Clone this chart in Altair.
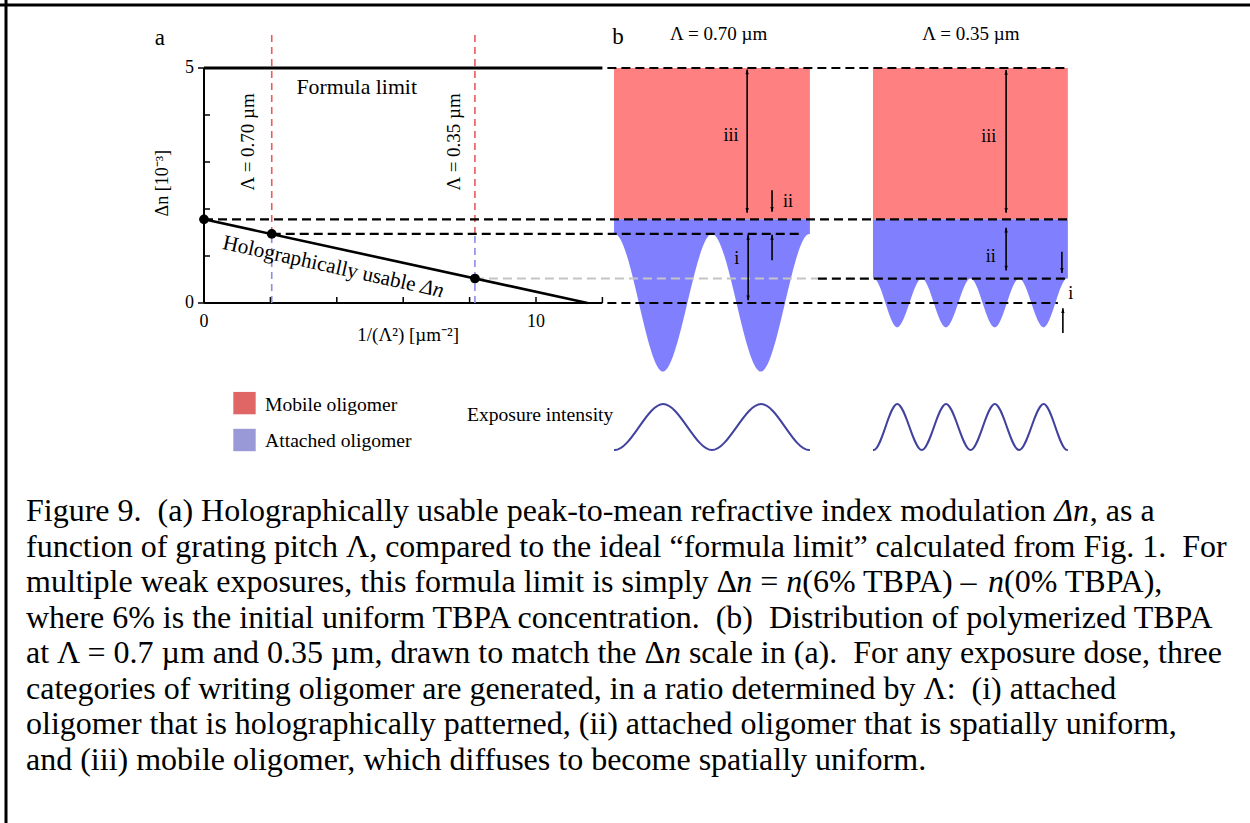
import math
import altair as alt
import pandas as pd

# ---------------- calibration of the single shared coordinate system ----------------
PX_X0, PX_PER_X = 204.0, 33.2      # pixel of x=0, pixels per 1 µm^-2
PX_Y0, PX_PER_Y = 303.0, 47.0      # pixel of Δn=0, pixels per 1e-3
W, H = 1250, 823
XS = alt.Scale(domain=[-PX_X0 / PX_PER_X, (W - PX_X0) / PX_PER_X], nice=False, zero=False)
YS = alt.Scale(domain=[-(H - PX_Y0) / PX_PER_Y, PX_Y0 / PX_PER_Y], nice=False, zero=False)
FONT = "Liberation Serif"
NB = "\u00a0"

# ---------------- panel (a) data ----------------
inv_pitch_sq = [0.0, 2.04, 8.16]        # 1/Λ² [µm⁻²]
usable_dn = [1.78, 1.47, 0.52]          # holographically usable Δn [1e-3]
usable_line_x = [0.0, 11.55]
usable_line_y = [1.78, 0.0]
formula_limit = 5.0
x_axis_max = 12.0
x_tick_values = [2, 4, 6, 8, 10, 12]
x_label_values = [0, 10]
y_tick_in_values = [1, 2, 3, 4]
y_tick_out_values = [0, 5]
pitch_line_top = 5.70

# ---------------- panel (b) data ----------------
top_level = 5.0
mobile_floor = 1.78
# Λ = 0.70 µm block: lower edge of attached oligomer (peaks / troughs)
blockA_x = [12.35, 12.37, 13.83, 15.30, 16.78, 18.23, 18.25]
blockA_y = [1.47, 1.47, -1.46, 1.47, -1.46, 1.47, 1.47]
# Λ = 0.35 µm block
blockB_x = [20.15, 20.17, 20.88, 21.62, 22.35, 23.09, 23.82, 24.55, 25.29, 26.00, 26.02]
blockB_y = [0.52, 0.52, -0.52, 0.52, -0.52, 0.52, -0.52, 0.52, -0.52, 0.52, 0.52]
# exposure intensity waves (drawn in the same frame, below the blocks)
waveA_x = [12.35, 12.37, 13.83, 15.30, 16.78, 18.23, 18.25]
waveA_y = [-3.13, -3.13, -2.15, -3.13, -2.15, -3.13, -3.13]
waveB_x = [20.15, 20.17, 20.88, 21.62, 22.35, 23.09, 23.82, 24.55, 25.29, 26.00, 26.02]
waveB_y = [-3.13, -3.13, -2.15, -3.13, -2.15, -3.13, -2.15, -3.13, -2.15, -3.13, -3.13]

# caption: each line is a list of (text, italic) runs
caption_lines = [
    [("Figure 9.  (a) Holographically usable peak-to-mean refractive index modulation ", False),
     ("\u0394n", True), (", as a", False)],
    [("function of grating pitch \u039b, compared to the ideal \u201cformula limit\u201d calculated from Fig. 1.  For", False)],
    [("multiple weak exposures, this formula limit is simply \u0394", False), ("n", True), (" = ", False),
     ("n", True), ("(6% TBPA) \u2013 ", False), ("n", True), ("(0% TBPA),", False)],
    [("where 6% is the initial uniform TBPA concentration.  (b)  Distribution of polymerized TBPA", False)],
    [("at \u039b = 0.7 \u00b5m and 0.35 \u00b5m, drawn to match the \u0394", False), ("n", True),
     (" scale in (a).  For any exposure dose, three", False)],
    [("categories of writing oligomer are generated, in a ratio determined by \u039b:  (i) attached", False)],
    [("oligomer that is holographically patterned, (ii) attached oligomer that is spatially uniform,", False)],
    [("and (iii) mobile oligomer, which diffuses to become spatially uniform.", False)],
]

# advance widths (per 1000 em) of the serif font, used only to place italic runs after upright ones
ADV = {' ': 250, NB: 250, '(': 333, ')': 333, ',': 250, '-': 333, '.': 250, '/': 278, ':': 278,
       '=': 564, '%': 833, '\u0394': 612, '\u039b': 722, '\u00b5': 576, '\u2013': 500,
       '\u201c': 444, '\u201d': 444}
ADV.update({d: 500 for d in "0123456789"})
ADV.update(dict(zip("ABCDEFGHIJKLMNOPQRSTUVWXYZ",
                    [722, 667, 667, 722, 611, 556, 722, 722, 333, 389, 722, 611, 889, 722, 722, 556,
                     722, 667, 556, 611, 722, 722, 944, 722, 722, 611])))
ADV.update(dict(zip("abcdefghijklmnopqrstuvwxyz",
                    [444, 500, 444, 500, 444, 333, 500, 500, 278, 278, 500, 278, 778, 500, 500, 500,
                     500, 333, 389, 278, 500, 500, 722, 500, 500, 444])))


def run_width(s, size):
    return sum(ADV.get(c, 500) for c in s) * size / 1000.0


def px_x(p):
    return (p - PX_X0) / PX_PER_X


def px_y(p):
    return (PX_Y0 - p) / PX_PER_Y


def X(f="x"):
    return alt.X(f + ":Q", scale=XS, axis=None)


def Y(f="y"):
    return alt.Y(f + ":Q", scale=YS, axis=None)


def segs(rows, **mk):
    df = pd.DataFrame(rows, columns=["x", "y", "x2", "y2"])
    return alt.Chart(df).mark_rule(**mk).encode(x=X(), y=Y(), x2="x2:Q", y2="y2:Q")


def texts(rows, **mk):
    df = pd.DataFrame(rows, columns=["x", "y", "t"])
    base = dict(font=FONT, color="black")
    base.update(mk)
    return alt.Chart(df).mark_text(**base).encode(x=X(), y=Y(), text="t:N")


layers = []

# frame of the figure
xmin, xmax = XS.domain
ymin, ymax = YS.domain
layers.append(segs([[xmin, px_y(5), xmax, px_y(5)], [px_x(6), ymax, px_x(6), ymin]],
                   color="black", strokeWidth=3))

# ---- panel (b) blocks ----
red_df = pd.DataFrame({"x": [blockA_x[0], blockB_x[0]], "x2": [blockA_x[-1], blockB_x[-1]],
                       "y": [mobile_floor] * 2, "y2": [top_level] * 2})
layers.append(alt.Chart(red_df).mark_rect(color="#FF8080").encode(x=X(), x2="x2:Q", y=Y(), y2="y2:Q"))
for bx, by in [(blockA_x, blockA_y), (blockB_x, blockB_y)]:
    df = pd.DataFrame({"x": bx, "y": by, "y2": [mobile_floor] * len(bx)})
    layers.append(alt.Chart(df).mark_area(color="#8080FF", interpolate="monotone", opacity=1)
                  .encode(x=X(), y=Y(), y2="y2:Q"))

# exposure waves
for wx, wy in [(waveA_x, waveA_y), (waveB_x, waveB_y)]:
    df = pd.DataFrame({"x": wx, "y": wy})
    layers.append(alt.Chart(df).mark_line(color="#41419E", strokeWidth=2, interpolate="monotone")
                  .encode(x=X(), y=Y()))

# ---- panel (a) axes ----
layers.append(segs([[0, 0, x_axis_max, 0], [0, 0, 0, formula_limit]], color="black", strokeWidth=2))
tick_rows = [[v, 0, v, 6 / PX_PER_Y] for v in x_tick_values]
tick_rows += [[0, v, 6 / PX_PER_X, v] for v in y_tick_in_values]
tick_rows += [[-6 / PX_PER_X, v, 0, v] for v in y_tick_out_values]
layers.append(segs(tick_rows, color="black", strokeWidth=1.5))

# formula limit (solid) line
layers.append(segs([[0, formula_limit, x_axis_max, formula_limit]], color="black", strokeWidth=3))

# pitch marker lines (red above, blue below the usable level)
pitches = [inv_pitch_sq[1], inv_pitch_sq[2]]
layers.append(segs([[v, usable_dn[1], v, pitch_line_top] for v in pitches],
                   color="#E85C5C", strokeWidth=1.6, strokeDash=[7, 5]))
layers.append(segs([[v, 0, v, usable_dn[1]] for v in pitches],
                   color="#8C8CE6", strokeWidth=1.6, strokeDash=[7, 5]))

# dashed guide lines across to panel (b)
layers.append(segs([[x_axis_max + 0.15, top_level, blockB_x[-1], top_level],
                    [0, mobile_floor, blockB_x[-1], mobile_floor],
                    [inv_pitch_sq[1], usable_dn[1], 18.04, usable_dn[1]],
                    [18.49, usable_dn[2], 25.93, usable_dn[2]],
                    [x_axis_max + 0.15, 0, 25.72, 0]],
                   color="black", strokeWidth=2.2, strokeDash=[9, 5]))
layers.append(segs([[inv_pitch_sq[2], usable_dn[2], 18.49, usable_dn[2]]],
                   color="#C4C4C4", strokeWidth=2, strokeDash=[9, 5]))

# usable Δn line and points
ldf = pd.DataFrame({"x": usable_line_x, "y": usable_line_y})
layers.append(alt.Chart(ldf).mark_line(color="black", strokeWidth=2.6).encode(x=X(), y=Y()))
pdf = pd.DataFrame({"x": inv_pitch_sq, "y": usable_dn})
layers.append(alt.Chart(pdf).mark_circle(color="black", size=95, opacity=1).encode(x=X(), y=Y()))

# ---- arrows in panel (b) ----
arrow_shafts = [
    [16.36, 4.97, 16.36, 1.92],
    [17.11, 2.40, 17.11, 1.94],
    [17.11, 0.91, 17.11, 1.45],
    [16.39, 1.45, 16.39, 0.06],
    [24.16, 4.96, 24.16, 1.92],
    [24.16, 1.60, 24.16, 0.69],
    [25.84, 1.09, 25.84, 0.64],
    [25.87, -0.64, 25.87, -0.11],
]
layers.append(segs(arrow_shafts, color="black", strokeWidth=1.6))
up_heads = pd.DataFrame({"x": [16.36, 17.11, 16.39, 24.16, 24.16, 25.87],
                         "y": [4.97, 1.45, 1.45, 4.96, 1.60, -0.11]})
down_heads = pd.DataFrame({"x": [16.36, 17.11, 16.39, 24.16, 24.16, 25.84],
                           "y": [1.92, 1.94, 0.06, 1.92, 0.69, 0.64]})
layers.append(alt.Chart(up_heads).mark_point(shape="M0,0L-0.42,1.2L0.42,1.2Z", filled=True, size=64,
                                             color="black", opacity=1).encode(x=X(), y=Y()))
layers.append(alt.Chart(down_heads).mark_point(shape="M0,0L-0.42,-1.2L0.42,-1.2Z", filled=True, size=64,
                                               color="black", opacity=1).encode(x=X(), y=Y()))

# ---- legend ----
leg = pd.DataFrame({"x": [1.22, 1.22], "y": [-2.13, -2.915], "c": ["#E06666", "#9999D8"]})
layers.append(alt.Chart(leg).mark_square(size=500, opacity=1).encode(
    x=X(), y=Y(), color=alt.Color("c:N", scale=None)))

# ---- texts ----
layers.append(texts([[-1.33, 5.64, "a"], [12.47, 5.66, "b"]], fontSize=23, align="center", baseline="middle"))
layers.append(texts([[15.5, 5.73, "\u039b = 0.70 \u00b5m"], [23.1, 5.73, "\u039b = 0.35 \u00b5m"]],
                    fontSize=19, align="center", baseline="middle"))
layers.append(texts([[-0.30, 5, "5"], [-0.30, 0, "0"]], fontSize=18, align="right", baseline="middle"))
layers.append(texts([[v, -0.40, str(v)] for v in x_label_values], fontSize=18, align="center", baseline="middle"))
layers.append(texts([[6.15, -0.68, "1/(\u039b\u00b2) [\u00b5m\u207b\u00b2]"]], fontSize=19, align="center", baseline="middle"))
layers.append(texts([[-1.25, 2.55, "\u0394n [10\u207b\u00b3]"]], fontSize=18, align="center", baseline="middle", angle=270))
layers.append(texts([[4.6, 4.6, "Formula limit"]], fontSize=21.8, align="center", baseline="middle"))
layers.append(texts([[1.33, 3.43, "\u039b = 0.70 \u00b5m"], [7.52, 3.43, "\u039b = 0.35 \u00b5m"]],
                    fontSize=19, align="center", baseline="middle", angle=270))

# rotated label along the usable-Δn line: upright run + italic "Δn"
HU_SIZE, HU_ANGLE = 21.2, 12.5
hu_prefix, hu_ital = "Holographically usable ", "\u0394n"
hu_total = run_width(hu_prefix, HU_SIZE) + run_width(hu_ital, HU_SIZE)
hu_cx, hu_cy = 333.5, 267.3          # centre of the label, pixels
ca, sa = math.cos(math.radians(HU_ANGLE)), math.sin(math.radians(HU_ANGLE))
hu_sx, hu_sy = hu_cx - hu_total / 2 * ca, hu_cy - hu_total / 2 * sa
hu_w = run_width(hu_prefix, HU_SIZE)
layers.append(texts([[px_x(hu_sx), px_y(hu_sy), hu_prefix.strip()]], fontSize=HU_SIZE, align="left",
                    baseline="middle", angle=HU_ANGLE))
layers.append(texts([[px_x(hu_sx + hu_w * ca), px_y(hu_sy + hu_w * sa), hu_ital]], fontSize=HU_SIZE,
                    align="left", baseline="middle", angle=HU_ANGLE, fontStyle="italic"))

layers.append(texts([[15.87, 3.55, "iii"], [17.59, 2.15, "ii"], [16.05, 0.94, "i"],
                     [23.64, 3.53, "iii"], [23.70, 0.98, "ii"], [26.11, 0.19, "i"]],
                    fontSize=18, align="center", baseline="middle"))
layers.append(texts([[1.84, -2.17, "Mobile oligomer"], [1.84, -2.936, "Attached oligomer"],
                     [7.92, -2.383, "Exposure intensity"]], fontSize=19.6, align="left", baseline="middle"))

# ---- caption ----
CAP_SIZE = 32.0
cap_up, cap_it = [], []
for i, runs in enumerate(caption_lines):
    xpos = 26.0
    ypos = px_y(511 + 35.5 * i)
    for txt, ital in runs:
        lead = len(txt) - len(txt.lstrip(" "))
        shown = txt.strip(" ").replace("  ", NB + " ")
        (cap_it if ital else cap_up).append([px_x(xpos + run_width(" " * lead, CAP_SIZE)), ypos, shown])
        xpos += run_width(txt, CAP_SIZE)
layers.append(texts(cap_up, fontSize=CAP_SIZE, align="left", baseline="middle"))
layers.append(texts(cap_it, fontSize=CAP_SIZE, align="left", baseline="middle", fontStyle="italic"))

chart = alt.layer(*layers).properties(
    width=W, height=H, padding=0, autosize=alt.AutoSizeParams(type="none"), background="white"
).configure_view(stroke=None)

chart.save("out.html", embed_options={"renderer": "svg", "actions": False})
